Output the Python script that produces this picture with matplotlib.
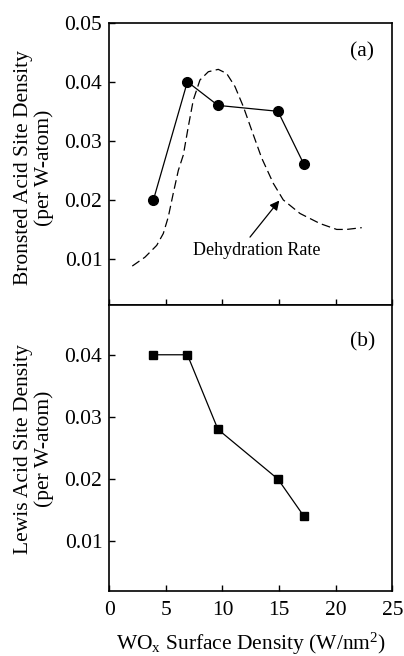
import matplotlib
matplotlib.use("Agg")
import matplotlib.pyplot as plt

plt.rcParams['font.family'] = ['Liberation Serif', 'DejaVu Serif']
plt.rcParams['mathtext.fontset'] = 'custom'
plt.rcParams['mathtext.rm'] = 'Liberation Serif'
plt.rcParams['mathtext.default'] = 'regular'

# WOx surface density of the catalysts (W/nm2)
wox_density = [3.9, 6.9, 9.6, 14.9, 17.2]
bronsted_sites = [0.020, 0.040, 0.036, 0.035, 0.026]
lewis_sites = [0.040, 0.040, 0.028, 0.020, 0.014]

# dehydration rate trace (arbitrary units on the Bronsted scale)
rate_x = [2.03, 3.15, 4.19, 4.77, 5.21, 5.65, 6.10, 6.54, 6.98, 7.42, 8.01, 8.75,
          9.63, 10.37, 11.10, 11.84, 12.58, 13.46, 14.49, 15.37, 16.85, 18.61,
          20.09, 20.97, 22.30]
rate_y = [0.0088, 0.0103, 0.0123, 0.0143, 0.0171, 0.0211, 0.0250, 0.0276, 0.0324,
          0.0369, 0.0403, 0.0417, 0.0421, 0.0414, 0.0392, 0.0358, 0.0318, 0.0271,
          0.0228, 0.0200, 0.0177, 0.0160, 0.0150, 0.0150, 0.0153]

fs = 15.5

fig = plt.figure(figsize=(4.04, 6.56), dpi=100)
ax1 = fig.add_axes([0.2705, 0.535, 0.7005, 0.4304])
ax2 = fig.add_axes([0.2705, 0.0991, 0.7005, 0.4359])

for ax in (ax1, ax2):
    ax.set_xlim(0, 25)
    ax.set_xticks([0, 5, 10, 15, 20, 25])
    ax.tick_params(direction='in', length=4, width=1, labelsize=fs,
                   top=False, right=False)
    ax.tick_params(axis='y', pad=5)
    ax.tick_params(axis='x', pad=7)
    for s in ax.spines.values():
        s.set_linewidth(1.2)

ax1.set_ylim(0.0022, 0.05)
ax1.set_yticks([0.01, 0.02, 0.03, 0.04, 0.05])
ax1.set_yticklabels(['0.01', '0.02', '0.03', '0.04', '0.05'])
ax1.tick_params(axis='x', labelbottom=False)

ax1.plot(rate_x, rate_y, color='black', lw=0.9, dashes=(7, 3.5))
ax1.plot(wox_density, bronsted_sites, '-o', color='black', lw=0.9, ms=7)
ax1.annotate('', xy=(15.02, 0.0199), xytext=(12.43, 0.0137),
             arrowprops=dict(arrowstyle='-|>', color='black', lw=0.9,
                             mutation_scale=14, shrinkA=0, shrinkB=0))
ax1.text(13.0, 0.0115, 'Dehydration Rate', fontsize=13, ha='center', va='center')
ax1.text(22.3, 0.045, '(a)', fontsize=fs, ha='center', va='center')

ax2.set_ylim(0.002, 0.048)
ax2.set_yticks([0.01, 0.02, 0.03, 0.04])
ax2.set_yticklabels(['0.01', '0.02', '0.03', '0.04'])
ax2.plot(wox_density, lewis_sites, '-s', color='black', lw=0.9, ms=6)
ax2.text(22.4, 0.0421, '(b)', fontsize=fs, ha='center', va='center')
ax2.set_xlabel('WO$_x$ Surface Density (W/nm$^2$)', fontsize=fs, labelpad=8)

fig.text(34 / 404, 1 - 168 / 656, 'Bronsted Acid Site Density\n(per W-atom)',
         rotation=90, fontsize=fs, ha='center', va='center', linespacing=1.05)
fig.text(34 / 404, 1 - 449 / 656, 'Lewis Acid Site Density\n(per W-atom)',
         rotation=90, fontsize=fs, ha='center', va='center', linespacing=1.05)

fig.savefig('out.png', dpi=100)
